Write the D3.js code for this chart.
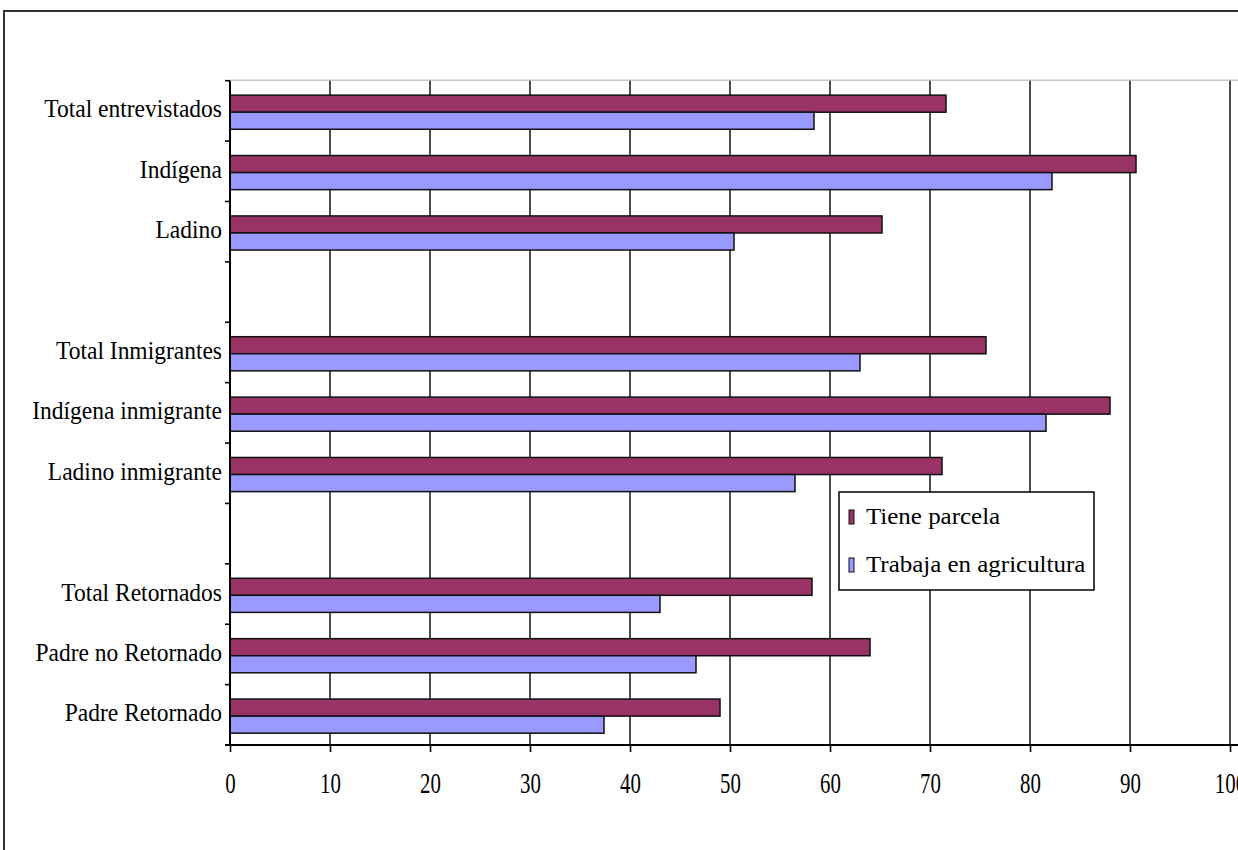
<!DOCTYPE html>
<html>
<head>
<meta charset="utf-8">
<script src="https://cdn.jsdelivr.net/npm/d3@7"></script>
<style>
  html, body { margin: 0; padding: 0; background: #fff; }
  svg { display: block; }
  text { font-family: "Liberation Serif", "Times New Roman", serif; fill: #000; }
</style>
</head>
<body>
<svg id="chart" width="1238" height="850"></svg>
<script>
// ---- data ----
const categories = ["Total entrevistados", "Indígena", "Ladino", "",
  "Total Inmigrantes", "Indígena inmigrante", "Ladino inmigrante", "",
  "Total Retornados", "Padre no Retornado", "Padre Retornado"];
const tieneParcela = [71.6, 90.6, 65.2, null, 75.6, 88.0, 71.2, null, 58.2, 64.0, 49.0];
const trabajaAgricultura = [58.4, 82.2, 50.4, null, 63.0, 81.6, 56.5, null, 43.0, 46.6, 37.4];
const seriesNames = ["Tiene parcela", "Trabaja en agricultura"];
const seriesColors = ["#993366", "#9999FF"];
const xTicks = [0, 10, 20, 30, 40, 50, 60, 70, 80, 90, 100];

// ---- layout ----
const svg = d3.select("#chart");
const W = 1238, H = 850;
const plot = { left: 230, right: 1230, top: 80.7, bottom: 745 };

// outer frame
svg.append("line").attr("x1", 3).attr("x2", W).attr("y1", 11).attr("y2", 11)
  .attr("stroke", "#333").attr("stroke-width", 2);
svg.append("line").attr("x1", 4).attr("x2", 4).attr("y1", 10).attr("y2", H)
  .attr("stroke", "#333").attr("stroke-width", 2);

const x = d3.scaleLinear().domain([0, 100]).range([plot.left, plot.right]);
const slots = d3.range(categories.length);
const y = d3.scaleBand().domain(slots).range([plot.top, plot.bottom]).padding(0);
const sub = d3.scaleBand().domain([0, 1]).range([0, y.bandwidth()])
  .paddingInner(0).paddingOuter(0.77).align(0.55);

// plot area top border
svg.append("line").attr("x1", plot.left).attr("x2", W).attr("y1", plot.top - 0.5).attr("y2", plot.top - 0.5)
  .attr("stroke", "#c8c8c8").attr("stroke-width", 1.5);

// gridlines
svg.append("g").selectAll("line").data(xTicks.filter(d => d > 0)).join("line")
  .attr("x1", d => x(d)).attr("x2", d => x(d))
  .attr("y1", plot.top).attr("y2", plot.bottom)
  .attr("stroke", "#222").attr("stroke-width", 1.6);

// bars
const seriesData = [tieneParcela, trabajaAgricultura];
seriesData.forEach((vals, si) => {
  svg.append("g").selectAll("rect")
    .data(slots.filter(i => vals[i] != null))
    .join("rect")
    .attr("x", x(0))
    .attr("y", i => y(i) + sub(si))
    .attr("width", i => x(vals[i]) - x(0))
    .attr("height", sub.bandwidth())
    .attr("fill", seriesColors[si])
    .attr("stroke", "#111")
    .attr("stroke-width", 1.5);
});

// y axis
const yAxisG = svg.append("g");
yAxisG.append("line").attr("x1", plot.left).attr("x2", plot.left)
  .attr("y1", plot.top).attr("y2", plot.bottom).attr("stroke", "#000").attr("stroke-width", 2);
const yTickPos = d3.range(categories.length + 1).map(k => plot.top + k * y.step());
yAxisG.selectAll("line.tick").data(yTickPos).join("line").attr("class", "tick")
  .attr("x1", plot.left - 5).attr("x2", plot.left).attr("y1", d => d).attr("y2", d => d)
  .attr("stroke", "#000").attr("stroke-width", 1.6);
yAxisG.selectAll("text").data(slots.filter(i => categories[i] !== "")).join("text")
  .attr("text-anchor", "end")
  .attr("font-size", 25)
  .attr("transform", i => `translate(222,${y(i) + y.bandwidth() / 2 + 6.5}) scale(0.94,1)`)
  .text(i => categories[i]);

// x axis
const xAxis = d3.axisBottom(x).tickValues(xTicks).tickSize(7).tickFormat(d3.format("d"));
const xAxisG = svg.append("g").attr("transform", `translate(0,${plot.bottom})`).call(xAxis);
xAxisG.select(".domain").attr("stroke", "#000").attr("stroke-width", 2).attr("d", `M${plot.left - 5},0H${W}`);
xAxisG.selectAll(".tick line").attr("stroke", "#000").attr("stroke-width", 1.6);
xAxisG.selectAll(".tick text")
  .attr("font-size", 29)
  .attr("font-family", "Liberation Serif, serif")
  .attr("fill", "#000")
  .attr("y", 0).attr("dy", 0)
  .attr("transform", "translate(0,47.7) scale(0.72,1)");

// legend
const lg = svg.append("g");
lg.append("rect").attr("x", 839).attr("y", 492).attr("width", 255).attr("height", 98)
  .attr("fill", "#fff").attr("stroke", "#000").attr("stroke-width", 1.5);
seriesNames.forEach((name, i) => {
  const cy = 517 + i * 48;
  lg.append("rect").attr("x", 849).attr("y", cy - 7).attr("width", 5).attr("height", 14)
    .attr("fill", seriesColors[i]).attr("stroke", "#111").attr("stroke-width", 1);
  lg.append("text").attr("font-size", 24)
    .attr("transform", `translate(866,${cy + 7}) scale(1.04,1)`)
    .text(name);
});
</script>
</body>
</html>
